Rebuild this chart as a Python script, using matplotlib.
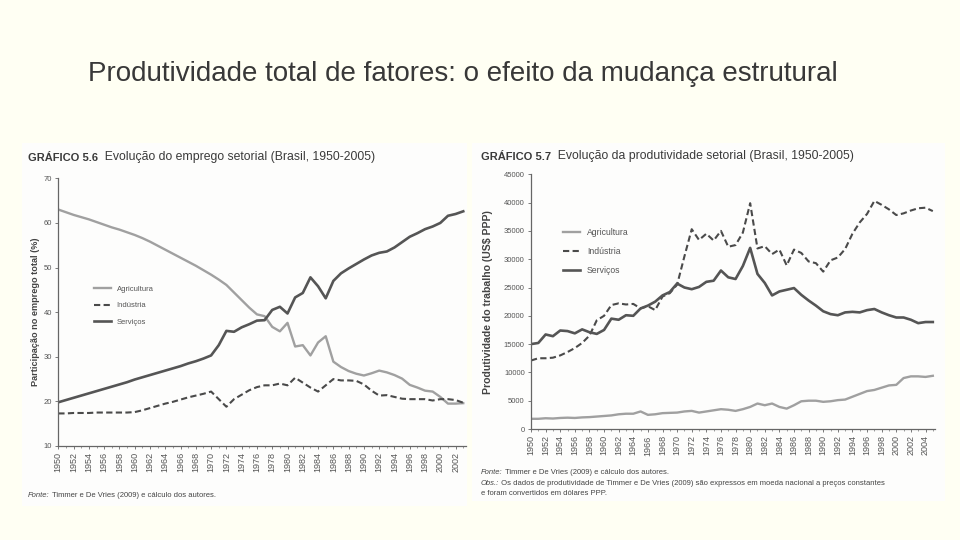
import numpy as np
import matplotlib
matplotlib.use('Agg')
import matplotlib.pyplot as plt
from matplotlib.patches import Rectangle
from matplotlib.ticker import MultipleLocator

plt.rcParams['font.family'] = ['Liberation Sans', 'DejaVu Sans']

# Gráfico 5.6 - participação no emprego total (%)
anos_emp = list(range(1950, 2004))
emp_agricultura = [63.0, 62.4, 61.8, 61.3, 60.8, 60.2, 59.6, 59.0, 58.5, 57.9,
                   57.3, 56.6, 55.8, 54.9, 54.0, 53.1, 52.2, 51.3, 50.4, 49.4,
                   48.4, 47.3, 46.1, 44.4, 42.7, 41.0, 39.5, 39.1, 36.7, 35.7,
                   37.6, 32.3, 32.6, 30.3, 33.2, 34.6, 28.9, 27.7, 26.8, 26.2,
                   25.8, 26.3, 26.9, 26.5, 25.9, 25.1, 23.7, 23.1, 22.4, 22.2,
                   21.0, 19.5, 19.5, 19.6]
emp_industria = [17.3, 17.3, 17.4, 17.4, 17.4, 17.5, 17.5, 17.5, 17.5, 17.5,
                 17.6, 18.0, 18.5, 19.0, 19.5, 19.9, 20.4, 20.9, 21.3, 21.7,
                 22.2, 20.5, 18.8, 20.5, 21.5, 22.5, 23.2, 23.6, 23.6, 24.0,
                 23.6, 25.3, 24.2, 23.1, 22.2, 23.6, 25.0, 24.7, 24.7, 24.6,
                 23.8, 22.4, 21.3, 21.4, 21.0, 20.6, 20.5, 20.5, 20.5, 20.2,
                 20.5, 20.5, 20.3, 19.7]
emp_servicos = [19.8, 20.3, 20.8, 21.3, 21.8, 22.3, 22.8, 23.3, 23.8, 24.3,
                24.9, 25.4, 25.9, 26.4, 26.9, 27.4, 27.9, 28.5, 29.0, 29.6,
                30.3, 32.6, 35.8, 35.6, 36.6, 37.3, 38.1, 38.2, 40.5, 41.2,
                39.7, 43.3, 44.3, 47.8, 45.8, 43.1, 47.0, 48.7, 49.8, 50.8,
                51.8, 52.7, 53.3, 53.6, 54.5, 55.7, 56.9, 57.7, 58.6, 59.2,
                60.0, 61.6, 62.0, 62.6]

# Gráfico 5.7 - produtividade do trabalho (US$ PPP)
anos_prod = list(range(1950, 2006))
prod_agricultura = [1800, 1800, 1900, 1850, 1950, 2000, 1950, 2050, 2100, 2200,
                    2300, 2400, 2600, 2700, 2700, 3100, 2500, 2600, 2800, 2850,
                    2900, 3100, 3200, 2900, 3100, 3300, 3500, 3400, 3200, 3500,
                    3900, 4500, 4200, 4500, 3900, 3600, 4200, 4900, 5000, 5000,
                    4800, 4900, 5100, 5200, 5700, 6200, 6700, 6900, 7300, 7700,
                    7800, 9000, 9300, 9300, 9200, 9400]
prod_industria = [12100, 12500, 12500, 12600, 13000, 13600, 14300, 15200, 16500, 19200,
                  20000, 21900, 22200, 22000, 22100, 21300, 21700, 21000, 23400, 24000,
                  25500, 30500, 35300, 33400, 34500, 33300, 35000, 32200, 32500, 34700,
                  39900, 31900, 32300, 30900, 31700, 28900, 31700, 31100, 29600, 29300,
                  27800, 29800, 30300, 31800, 34500, 36500, 38000, 40300, 39600, 38800,
                  37800, 38100, 38600, 39000, 39100, 38500]
prod_servicos = [15000, 15200, 16700, 16400, 17400, 17300, 16900, 17600, 17100, 16800,
                 17500, 19500, 19300, 20100, 20000, 21300, 21800, 22500, 23600, 24200,
                 25700, 25000, 24700, 25100, 26000, 26200, 28000, 26800, 26500, 28800,
                 32000, 27400, 25800, 23600, 24300, 24600, 24900, 23700, 22700, 21800,
                 20800, 20300, 20100, 20600, 20700, 20600, 21000, 21200, 20600, 20100,
                 19700, 19700, 19300, 18700, 18900, 18900]

setores = ['Agricultura', 'Indústria', 'Serviços']
cor_agr = '#a0a0a0'
cor_ind = '#4a4a4a'
cor_svc = '#555555'
cor_txt = '#444444'

fig = plt.figure(figsize=(9.6, 5.4), dpi=100)
fig.patch.set_facecolor('#fffff3')

# fundo branco das duas figuras escaneadas
fig.patches.append(Rectangle((22 / 960, 1 - 506 / 540), 445 / 960, 363 / 540,
                             transform=fig.transFigure, facecolor='#fdfdfc',
                             edgecolor='none', zorder=-5))
fig.patches.append(Rectangle((472 / 960, 1 - 501 / 540), 473 / 960, 358 / 540,
                             transform=fig.transFigure, facecolor='#fdfdfc',
                             edgecolor='none', zorder=-5))

fig.text(88 / 960, 1 - 74 / 540, 'Produtividade total de fatores: o efeito da mudança estrutural',
         fontsize=20, color='#383838', va='center', ha='left')


def estilo_eixo(ax, anos_ticks, ylim, ystep):
    ax.set_facecolor('none')
    for s in ['top', 'right']:
        ax.spines[s].set_visible(False)
    for s in ['left', 'bottom']:
        ax.spines[s].set_color('#666666')
        ax.spines[s].set_linewidth(0.9)
    ax.set_ylim(*ylim)
    ax.yaxis.set_major_locator(MultipleLocator(ystep))
    ax.set_xticks(anos_ticks)
    ax.set_xticklabels([str(a) for a in anos_ticks], rotation=90)
    ax.xaxis.set_minor_locator(MultipleLocator(1))
    ax.tick_params(axis='both', labelsize=5.5, colors='#666666', length=2.5, width=0.6, pad=2)
    ax.tick_params(axis='x', labelsize=6.5)
    ax.tick_params(axis='x', which='minor', length=1.5, width=0.5, colors='#777777')
    for lab in ax.get_xticklabels() + ax.get_yticklabels():
        lab.set_color('#555555')


def titulo(x, y, numero, texto, size):
    t1 = fig.text(x, y, numero, fontsize=size, fontweight='bold', color='#3a3a3a', va='baseline')
    fig.add_artist(plt.Annotation('  ' + texto, xy=(1, 0), xycoords=t1, va='bottom', ha='left',
                                  fontsize=size + 0.8, color='#3a3a3a'))


def fonte(x, y, rotulo, texto, size=5.5):
    t1 = fig.text(x, y, rotulo, fontsize=size, style='italic', color=cor_txt, va='baseline')
    fig.add_artist(plt.Annotation(' ' + texto, xy=(1, 0), xycoords=t1, va='bottom', ha='left',
                                  fontsize=size, color=cor_txt))


# ---- Gráfico 5.6 ----
ax1 = fig.add_axes([58.3 / 960, 1 - 446 / 540, 408 / 960, 267.7 / 540])
ax1.plot(anos_emp, emp_agricultura, color=cor_agr, lw=1.7, label=setores[0])
ax1.plot(anos_emp, emp_industria, color=cor_ind, lw=1.5, ls=(0, (3, 1.6)), label=setores[1])
ax1.plot(anos_emp, emp_servicos, color=cor_svc, lw=1.9, label=setores[2])
ax1.set_xlim(1950, 2003.4)
estilo_eixo(ax1, list(range(1950, 2003, 2)), (10, 70), 10)
ax1.set_ylabel('Participação no emprego total (%)', fontsize=6.6, fontweight='bold',
               color='#444444', labelpad=3)
ax1.legend(loc='upper left', bbox_to_anchor=(0.07, 0.625), frameon=False, fontsize=5.5,
           handlelength=2.2, labelspacing=1.2, labelcolor='#555555')

titulo(28 / 960, 1 - 161 / 540, 'GRÁFICO 5.6', 'Evolução do emprego setorial (Brasil, 1950-2005)', 8)
fonte(28 / 960, 1 - 497 / 540, 'Fonte:', 'Timmer e De Vries (2009) e cálculo dos autores.')

# ---- Gráfico 5.7 ----
ax2 = fig.add_axes([531 / 960, 1 - 429 / 540, 404 / 960, 254.7 / 540])
ax2.plot(anos_prod, prod_agricultura, color=cor_agr, lw=1.7, label=setores[0])
ax2.plot(anos_prod, prod_industria, color=cor_ind, lw=1.5, ls=(0, (3, 1.6)), label=setores[1])
ax2.plot(anos_prod, prod_servicos, color=cor_svc, lw=1.9, label=setores[2])
ax2.set_xlim(1950, 2005.3)
estilo_eixo(ax2, list(range(1950, 2005, 2)), (0, 45000), 5000)
ax2.set_ylabel('Produtividade do trabalho (US$ PPP)', fontsize=7.6, fontweight='bold',
               color='#444444', labelpad=8)
ax2.legend(loc='upper left', bbox_to_anchor=(0.06, 0.82), frameon=False, fontsize=6.2,
           handlelength=2.0, labelspacing=1.15, labelcolor='#555555')

titulo(481 / 960, 1 - 160 / 540, 'GRÁFICO 5.7', 'Evolução da produtividade setorial (Brasil, 1950-2005)', 8)
fonte(481 / 960, 1 - 474 / 540, 'Fonte:', 'Timmer e De Vries (2009) e cálculo dos autores.')
fonte(481 / 960, 1 - 485 / 540, 'Obs.:', 'Os dados de produtividade de Timmer e De Vries (2009) são '
      'expressos em moeda nacional a preços constantes')
fig.text(481 / 960, 1 - 495 / 540, 'e foram convertidos em dólares PPP.', fontsize=5.5,
         color=cor_txt, va='baseline')

fig.savefig('out.png', dpi=100, facecolor=fig.get_facecolor())
